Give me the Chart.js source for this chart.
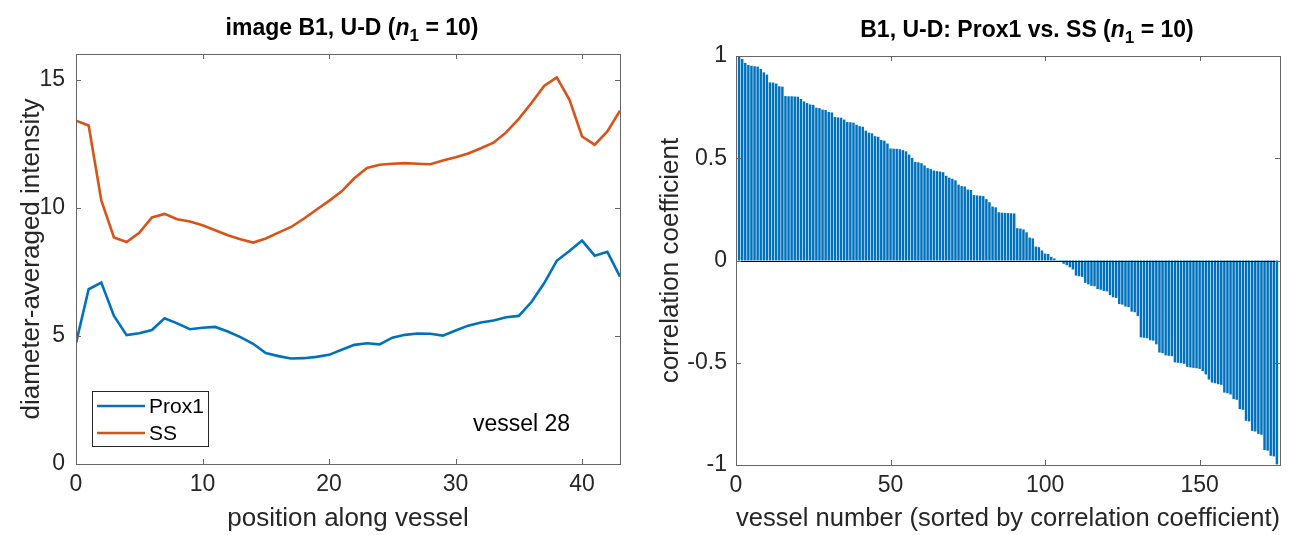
<!DOCTYPE html>
<html>
<head>
<meta charset="utf-8">
<script src="https://cdn.jsdelivr.net/npm/chart.js@4.4.0/dist/chart.umd.min.js"></script>
<style>
  html, body { margin: 0; padding: 0; background: #fff; }
  #wrap { position: relative; width: 1294px; height: 535px; }
  canvas { position: absolute; top: 0; }
</style>
</head>
<body>
<div id="wrap">
  <canvas id="left" width="650" height="535" style="left:0"></canvas>
  <canvas id="right" width="644" height="535" style="left:650px"></canvas>
</div>
<script>
// left panel: intensity profile along vessel 28
const positions = [0,1,2,3,4,5,6,7,8,9,10,11,12,13,14,15,16,17,18,19,20,21,
  22,23,24,25,26,27,28,29,30,31,32,33,34,35,36,37,38,39,40,41,42,43];
const prox1 = [4.71,6.82,7.08,5.78,5.03,5.10,5.23,5.69,5.49,5.26,5.32,5.35,5.17,4.95,4.69,
  4.33,4.21,4.12,4.13,4.18,4.26,4.46,4.65,4.71,4.67,4.93,5.04,5.09,5.08,5.01,5.21,
  5.40,5.52,5.60,5.73,5.78,6.32,7.05,7.93,8.31,8.72,8.13,8.28,7.31];
const ss = [13.40,13.21,10.29,8.84,8.66,9.02,9.62,9.76,9.55,9.46,9.32,9.12,8.93,8.77,8.64,
  8.80,9.03,9.25,9.57,9.92,10.27,10.64,11.15,11.55,11.68,11.72,11.74,11.72,11.70,11.84,
  11.97,12.12,12.32,12.54,12.94,13.47,14.09,14.75,15.09,14.22,12.78,12.46,12.98,13.79];
const leftXTicks = [0, 10, 20, 30, 40];
const leftYTicks = [0, 5, 10, 15];

// right panel: correlation coefficient per vessel, sorted
const corr = [1.000,0.985,0.966,0.956,0.952,0.950,0.948,0.937,0.920,0.909,
  0.871,0.870,0.865,0.852,0.850,0.804,0.803,0.803,0.802,0.801,
  0.790,0.778,0.770,0.763,0.761,0.747,0.745,0.738,0.736,0.726,
  0.724,0.702,0.700,0.698,0.689,0.677,0.676,0.674,0.664,0.657,
  0.654,0.635,0.625,0.622,0.608,0.605,0.589,0.586,0.572,0.548,
  0.547,0.546,0.544,0.540,0.534,0.518,0.502,0.482,0.480,0.476,
  0.465,0.452,0.448,0.440,0.437,0.435,0.432,0.414,0.405,0.400,
  0.392,0.371,0.364,0.362,0.347,0.345,0.320,0.318,0.317,0.315,
  0.300,0.285,0.264,0.260,0.236,0.234,0.233,0.232,0.231,0.230,
  0.158,0.156,0.152,0.138,0.112,0.108,0.068,0.065,0.049,0.034,
  0.032,0.018,0.010,0.002,-0.006,-0.016,-0.023,-0.033,-0.044,-0.074,
  -0.077,-0.080,-0.109,-0.117,-0.124,-0.126,-0.140,-0.143,-0.149,-0.151,
  -0.169,-0.180,-0.183,-0.213,-0.216,-0.225,-0.228,-0.250,-0.253,-0.272,
  -0.376,-0.378,-0.380,-0.390,-0.392,-0.410,-0.450,-0.453,-0.464,-0.466,
  -0.468,-0.498,-0.500,-0.502,-0.505,-0.520,-0.523,-0.525,-0.527,-0.530,
  -0.541,-0.557,-0.582,-0.597,-0.600,-0.605,-0.608,-0.646,-0.649,-0.655,
  -0.678,-0.681,-0.727,-0.730,-0.784,-0.787,-0.833,-0.836,-0.848,-0.852,
  -0.927,-0.930,-0.955,-0.958,-0.997];
const vesselNum = corr.map((v, i) => i + 1);
const rightXTicks = [0, 50, 100, 150];
const rightYTicks = [-1, -0.5, 0, 0.5, 1];

const FONT = '"Liberation Sans", Arial, Helvetica, sans-serif';
const AXIS = '#262626';
const BLUE = '#0072BD';
const ORANGE = '#D95319';
const TICK_SIZE = 23;
const LABEL_SIZE = 26;

Chart.defaults.font.family = FONT;
Chart.defaults.color = AXIS;

// box round the axes with MATLAB-style inward ticks
function boxPlugin(zeroLine) {
  return {
    id: 'box',
    afterDatasetsDraw(chart) {
      const { ctx, chartArea: a, scales } = chart;
      ctx.save();
      if (zeroLine) {
        const y0 = Math.round(scales.y.getPixelForValue(0)) + 0.5;
        ctx.strokeStyle = '#000';
        ctx.lineWidth = 1;
        ctx.beginPath();
        ctx.moveTo(a.left, y0);
        ctx.lineTo(a.right, y0);
        ctx.stroke();
      }
      const tl = 5;
      ctx.strokeStyle = '#666';
      ctx.lineWidth = 1;
      ctx.beginPath();
      scales.x.ticks.forEach(t => {
        const px = Math.round(scales.x.getPixelForValue(t.value)) + 0.5;
        ctx.moveTo(px, a.bottom); ctx.lineTo(px, a.bottom - tl);
        ctx.moveTo(px, a.top); ctx.lineTo(px, a.top + tl);
      });
      scales.y.ticks.forEach(t => {
        const py = Math.round(scales.y.getPixelForValue(t.value)) + 0.5;
        ctx.moveTo(a.left, py); ctx.lineTo(a.left + tl, py);
        ctx.moveTo(a.right, py); ctx.lineTo(a.right - tl, py);
      });
      ctx.stroke();
      ctx.strokeRect(Math.round(a.left) + 0.5, Math.round(a.top) + 0.5,
        Math.round(a.right - a.left), Math.round(a.bottom - a.top));
      ctx.restore();
    }
  };
}

// title with italic n and subscript 1, centred at cx (canvas px)
function titlePlugin(before, cx, y) {
  return {
    id: 'mtitle',
    afterDraw(chart) {
      const { ctx } = chart;
      const parts = [
        { t: before, f: 'bold 23px ' + FONT, dy: 0 },
        { t: 'n', f: 'italic bold 23px ' + FONT, dy: 0 },
        { t: '1', f: 'bold 17px ' + FONT, dy: 6 },
        { t: ' = 10)', f: 'bold 23px ' + FONT, dy: 0 }
      ];
      ctx.save();
      ctx.fillStyle = '#000';
      ctx.textBaseline = 'alphabetic';
      let w = 0;
      parts.forEach(p => { ctx.font = p.f; p.w = ctx.measureText(p.t).width; w += p.w; });
      let x = cx - w / 2;
      parts.forEach(p => { ctx.font = p.f; ctx.fillText(p.t, x, y + p.dy); x += p.w; });
      ctx.restore();
    }
  };
}

const legendPlugin = {
  id: 'mlegend',
  afterDraw(chart) {
    const { ctx } = chart;
    ctx.save();
    ctx.fillStyle = '#fff';
    ctx.fillRect(92, 391, 116, 55);
    ctx.strokeStyle = AXIS;
    ctx.lineWidth = 1;
    ctx.strokeRect(92.5, 391.5, 116, 55);
    ctx.lineWidth = 2.5;
    ctx.strokeStyle = BLUE;
    ctx.beginPath(); ctx.moveTo(97, 406); ctx.lineTo(145, 406); ctx.stroke();
    ctx.strokeStyle = ORANGE;
    ctx.beginPath(); ctx.moveTo(97, 433); ctx.lineTo(145, 433); ctx.stroke();
    ctx.fillStyle = '#000';
    ctx.font = '21px ' + FONT;
    ctx.textBaseline = 'middle';
    ctx.fillText('Prox1', 149, 407);
    ctx.fillText('SS', 149, 434);
    ctx.font = '23px ' + FONT;
    ctx.fillText('vessel 28', 473, 425);
    ctx.restore();
  }
};

function fixTicks(list) {
  return scale => { scale.ticks = list.map(v => ({ value: v })); };
}

new Chart(document.getElementById('left'), {
  type: 'line',
  data: {
    datasets: [
      { label: 'Prox1', data: positions.map((x, i) => ({ x: x, y: prox1[i] })),
        borderColor: BLUE, borderWidth: 2.6, pointRadius: 0, tension: 0 },
      { label: 'SS', data: positions.map((x, i) => ({ x: x, y: ss[i] })),
        borderColor: ORANGE, borderWidth: 2.6, pointRadius: 0, tension: 0 }
    ]
  },
  options: {
    responsive: false,
    animation: false,
    layout: { padding: { top: 54, right: 30, left: 0, bottom: 0 } },
    plugins: { legend: { display: false }, tooltip: { enabled: false } },
    scales: {
      x: {
        type: 'linear', min: 0, max: 43,
        afterBuildTicks: fixTicks(leftXTicks),
        afterFit: s => { s.height = 71; },
        grid: { display: false, drawTicks: false },
        border: { display: false },
        ticks: { padding: 7, font: { size: TICK_SIZE }, color: AXIS, maxRotation: 0 },
        title: { display: true, text: 'position along vessel', font: { size: LABEL_SIZE },
          color: AXIS, padding: { top: 0, bottom: 1 } }
      },
      y: {
        type: 'linear', min: 0, max: 16,
        afterBuildTicks: fixTicks(leftYTicks),
        afterFit: s => { s.width = 76; },
        grid: { display: false, drawTicks: false },
        border: { display: false },
        ticks: { padding: 11, font: { size: TICK_SIZE }, color: AXIS },
        title: { display: true, text: 'diameter-averaged intensity', font: { size: LABEL_SIZE },
          color: AXIS, padding: { top: 16, bottom: 0 } }
      }
    }
  },
  plugins: [boxPlugin(false), titlePlugin('image B1, U-D (', 352, 35), legendPlugin]
});

new Chart(document.getElementById('right'), {
  type: 'bar',
  data: {
    datasets: [
      { label: 'corr', data: vesselNum.map((x, i) => ({ x: x, y: corr[i] })),
        backgroundColor: BLUE, borderWidth: 0, barPercentage: 0.8, categoryPercentage: 1.0 }
    ]
  },
  options: {
    responsive: false,
    animation: false,
    layout: { padding: { top: 56, right: 14, left: 0, bottom: 0 } },
    plugins: { legend: { display: false }, tooltip: { enabled: false } },
    scales: {
      x: {
        type: 'linear', min: 0, max: 176, offset: false,
        afterBuildTicks: fixTicks(rightXTicks),
        afterFit: s => { s.height = 70; },
        grid: { display: false, drawTicks: false, offset: false },
        border: { display: false },
        ticks: { padding: 7, font: { size: TICK_SIZE }, color: AXIS, maxRotation: 0 },
        title: { display: true, text: 'vessel number (sorted by correlation coefficient)',
          font: { size: LABEL_SIZE }, color: AXIS, padding: { top: 0, bottom: 1 } }
      },
      y: {
        type: 'linear', min: -1, max: 1,
        afterBuildTicks: fixTicks(rightYTicks),
        afterFit: s => { s.width = 86; },
        grid: { display: false, drawTicks: false },
        border: { display: false },
        ticks: { padding: 9, font: { size: TICK_SIZE }, color: AXIS, callback: v => String(v) },
        title: { display: true, text: 'correlation coefficient', font: { size: LABEL_SIZE },
          color: AXIS, padding: { top: 5, bottom: 0 } }
      }
    }
  },
  plugins: [boxPlugin(true), titlePlugin('B1, U-D: Prox1 vs. SS (', 377, 37)]
});
</script>
</body>
</html>
